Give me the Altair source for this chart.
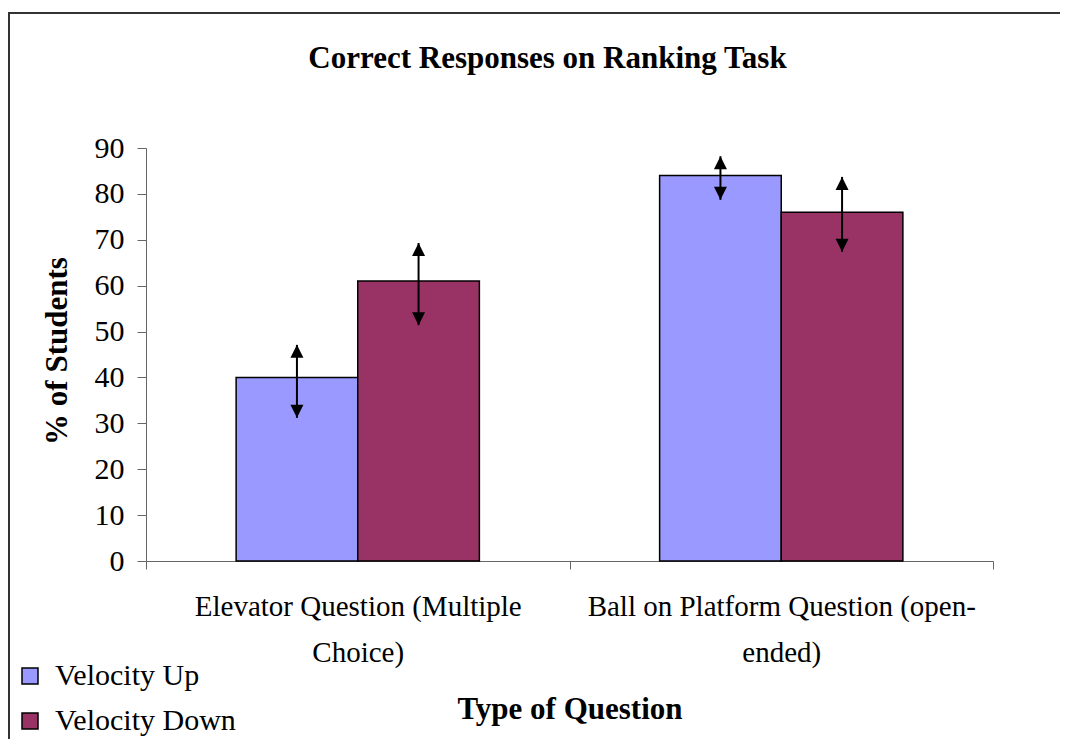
import altair as alt
import pandas as pd

# ---- data ----
categories = ["Elevator Question (Multiple Choice)", "Ball on Platform Question (open-ended)"]
category_lines = {
    "Elevator Question (Multiple Choice)": "Elevator Question (Multiple|Choice)",
    "Ball on Platform Question (open-ended)": "Ball on Platform Question (open-|ended)",
}
series = ["Velocity Up", "Velocity Down"]
values_up = [40, 84]
values_down = [61, 76]
err_low_up = [31.2, 78.7]
err_high_up = [47.1, 88.2]
err_low_down = [51.4, 67.4]
err_high_down = [69.3, 83.7]
colors = ["#9999FF", "#993366"]
y_ticks = [0, 10, 20, 30, 40, 50, 60, 70, 80, 90]

rows = []
for i, c in enumerate(categories):
    rows.append({"cat": c, "series": "Velocity Up", "value": values_up[i],
                 "lo": err_low_up[i], "hi": err_high_up[i]})
    rows.append({"cat": c, "series": "Velocity Down", "value": values_down[i],
                 "lo": err_low_down[i], "hi": err_high_down[i]})
df = pd.DataFrame(rows)

FONT = "Times New Roman, Liberation Serif, serif"
W, H = 847, 413

label_expr = "split(" + " ".join(
    f"datum.label == '{k}' ? '{v}' :" for k, v in category_lines.items()
) + " datum.label, '|')"

x_enc = alt.X(
    "cat:N",
    sort=categories,
    scale=alt.Scale(paddingInner=0, paddingOuter=0),
    axis=alt.Axis(
        title="Type of Question",
        titleFont=FONT, titleFontSize=31, titleFontWeight="bold", titleColor="black",
        titleY=157, titleBaseline="alphabetic",
        labelFont=FONT, labelFontSize=29, labelColor="black", labelAngle=0,
        labelLineHeight=46, labelPadding=23, labelExpr=label_expr,
        tickBand="extent", tickSize=8, tickColor="#666666", domainColor="#666666",
        labelLimit=500,
    ),
)
xoff = alt.XOffset("series:N", sort=series,
                   scale=alt.Scale(paddingInner=0, paddingOuter=0.741))

y_scale = alt.Scale(domain=[0, 90], nice=False)

bars = alt.Chart(df).mark_bar(stroke="black", strokeWidth=1.5).encode(
    x=x_enc,
    xOffset=xoff,
    y=alt.Y(
        "value:Q",
        scale=y_scale,
        axis=alt.Axis(
            values=y_ticks, grid=False,
            title="% of Students",
            titleFont=FONT, titleFontSize=31, titleFontWeight="bold", titleColor="black",
            titleX=-89, titleY=H / 2 - 4, titleAlign="center", titleBaseline="middle",
            labelFont=FONT, labelFontSize=30, labelColor="black", labelPadding=13,
            tickSize=9, tickColor="#666666", domainColor="#666666",
        ),
    ),
    color=alt.Color(
        "series:N",
        sort=series,
        scale=alt.Scale(domain=series, range=colors),
        legend=alt.Legend(
            title=None, orient="none", legendX=-131, legendY=513,
            symbolType="square", symbolSize=256, symbolStrokeColor="black",
            symbolStrokeWidth=1.5, symbolOpacity=1,
            labelFont=FONT, labelFontSize=30, labelColor="black", labelOffset=10,
            labelLimit=400, rowPadding=15, padding=0,
        ),
    ),
)

rules = alt.Chart(df).mark_rule(color="black", strokeWidth=2).encode(
    x=alt.X("cat:N", sort=categories), xOffset=xoff,
    y=alt.Y("lo:Q", scale=y_scale), y2="hi:Q",
)

up_heads = alt.Chart(df).mark_point(
    shape="M0,0L1,2L-1,2Z", filled=True, color="black", opacity=1, size=169
).encode(
    x=alt.X("cat:N", sort=categories), xOffset=xoff,
    y=alt.Y("hi:Q", scale=y_scale),
)
down_heads = alt.Chart(df).mark_point(
    shape="M0,0L1,-2L-1,-2Z", filled=True, color="black", opacity=1, size=169
).encode(
    x=alt.X("cat:N", sort=categories), xOffset=xoff,
    y=alt.Y("lo:Q", scale=y_scale),
)

frame = alt.Chart(pd.DataFrame({"f": [0]})).mark_rect(
    fill=None, stroke="#333333", strokeWidth=2
).encode(
    x=alt.value(9 - 146), x2=alt.value(1200),
    y=alt.value(13 - 148), y2=alt.value(900),
)

chart = alt.layer(frame, bars, rules, up_heads, down_heads).properties(
    width=W, height=H,
    background="white",
    title=alt.Title(
        "Correct Responses on Ranking Task",
        font=FONT, fontSize=31, fontWeight="bold", color="black",
        anchor="middle", frame="group", dx=-22, offset=-87, baseline="alphabetic",
    ),
    autosize=alt.AutoSizeParams(type="none"),
    padding={"left": 138, "top": 140, "right": 67, "bottom": 178},
).configure_view(stroke=None)

chart.save("out.html", embed_options={"renderer": "svg", "actions": False})
